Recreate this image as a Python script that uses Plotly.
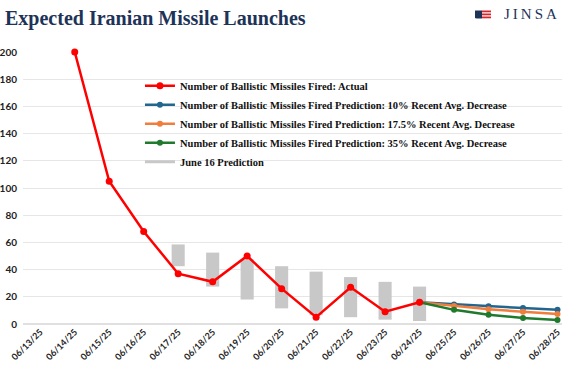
import plotly.graph_objects as go

dates = ["06/13/25", "06/14/25", "06/15/25", "06/16/25", "06/17/25", "06/18/25",
         "06/19/25", "06/20/25", "06/21/25", "06/22/25", "06/23/25", "06/24/25",
         "06/25/25", "06/26/25", "06/27/25", "06/28/25"]

actual_dates = dates[1:12]
actual = [200, 105, 68, 37, 31, 50, 26, 5, 27, 9, 16]

pred_dates = dates[11:16]
pred_10 = [16, 14.4, 13.0, 11.7, 10.5]
pred_175 = [16, 13.2, 10.9, 9.0, 7.4]
pred_35 = [16, 10.4, 6.8, 4.4, 2.9]

june16_dates = dates[4:12]
june16_low = [42.5, 27.5, 18, 11.5, 6.5, 5, 3.2, 2.2]
june16_high = [58.5, 52.5, 47.5, 42.5, 38.5, 34.5, 31, 27.5]

y_ticks = [0, 20, 40, 60, 80, 100, 120, 140, 160, 180, 200]

RED = "#ff0000"
BLUE = "#22668f"
ORANGE = "#ef7d3c"
GREEN = "#1f7a2e"
GRAY = "#c8c8c8"
NAVY = "#1d3358"

fig = go.Figure()

fig.add_trace(go.Bar(
    x=june16_dates, y=[h - l for h, l in zip(june16_high, june16_low)], base=june16_low,
    marker=dict(color=GRAY, line=dict(width=0)), width=0.38, showlegend=False,
    name="June 16 Prediction"))

fig.add_trace(go.Scatter(x=pred_dates, y=pred_10, mode="lines+markers",
                         line=dict(color=BLUE, width=2.5), marker=dict(size=6, color=BLUE),
                         name="Number of Ballistic Missiles Fired Prediction: 10% Recent Avg. Decrease",
                         legendrank=2))
fig.add_trace(go.Scatter(x=pred_dates, y=pred_175, mode="lines+markers",
                         line=dict(color=ORANGE, width=2.5), marker=dict(size=6, color=ORANGE),
                         name="Number of Ballistic Missiles Fired Prediction: 17.5% Recent Avg. Decrease",
                         legendrank=3))
fig.add_trace(go.Scatter(x=pred_dates, y=pred_35, mode="lines+markers",
                         line=dict(color=GREEN, width=2.5), marker=dict(size=6, color=GREEN),
                         name="Number of Ballistic Missiles Fired Prediction: 35% Recent Avg. Decrease",
                         legendrank=4))
fig.add_trace(go.Scatter(x=actual_dates, y=actual, mode="lines+markers",
                         line=dict(color=RED, width=2.5), marker=dict(size=7, color=RED),
                         name="Number of Ballistic Missiles Fired: Actual", cliponaxis=False,
                         legendrank=1))
# legend proxy for the gray bars
fig.add_trace(go.Scatter(x=[None], y=[None], mode="lines", line=dict(color=GRAY, width=3),
                         name="June 16 Prediction", legendrank=5))

fig.update_layout(
    width=562, height=380,
    margin=dict(l=23, r=0, t=52, b=56, autoexpand=False),
    plot_bgcolor="white", paper_bgcolor="white",
    showlegend=True,
    legend=dict(x=0.217, y=0.929, xanchor="left", yanchor="top",
                font=dict(family="Liberation Serif", size=10.5, color="#111", weight="bold"),
                bgcolor="rgba(0,0,0,0)", tracegroupgap=0, itemwidth=30,
                traceorder="normal"),
    title=dict(text="<b>Expected Iranian Missile Launches</b>", x=5 / 562.0, xref="container",
               xanchor="left", y=(380 - 18) / 380.0, yref="container", yanchor="middle",
               font=dict(family="Liberation Serif", size=20, color=NAVY)),
    xaxis=dict(type="category", categoryorder="array", categoryarray=dates,
               range=[-0.5, 15.13], tickangle=-45, showgrid=False, showline=False,
               automargin=False,
               tickfont=dict(family="Lato", size=9, color="#222", weight="bold"),
               ticks=""),
    yaxis=dict(range=[0, 200], tickvals=y_ticks, showgrid=True, gridcolor="#e6e6e6",
               gridwidth=1, zeroline=True, zerolinecolor="#e0e0e0", showline=False,
               automargin=False,
               tickfont=dict(family="Lato", size=10, color="#222", weight="bold"),
               ticks="", ticklabelstandoff=5),
)

# JINSA logo
def px_x(p):
    return (p - 23) / 539.0

def px_y(p):
    return (324 - p) / 272.0

fig.add_shape(type="rect", xref="paper", yref="paper", x0=px_x(475), x1=px_x(482),
              y0=px_y(18.5), y1=px_y(10.5), fillcolor=NAVY, line=dict(width=0))
fig.add_shape(type="rect", xref="paper", yref="paper", x0=px_x(482), x1=px_x(491),
              y0=px_y(18.5), y1=px_y(10.5), fillcolor="white", line=dict(width=0))
for top in [10.5, 13.5, 16.5]:
    fig.add_shape(type="rect", xref="paper", yref="paper", x0=px_x(482), x1=px_x(491),
                  y0=px_y(top + 1.8), y1=px_y(top), fillcolor="#d9262c", line=dict(width=0))
fig.add_annotation(xref="paper", yref="paper", x=px_x(478.5), y=px_y(14.5), text="✡",
                   showarrow=False, font=dict(family="DejaVu Sans", size=7, color="white"))
fig.add_annotation(xref="paper", yref="paper", x=px_x(559), y=px_y(14.5), xanchor="right",
                   yanchor="middle",
                   text="J\u2009I\u2009N\u2009S\u2009A", showarrow=False,
                   font=dict(family="Liberation Serif", size=15, color=NAVY))

fig.write_html("out.html", config={"displayModeBar": False},
               post_script="document.body.style.margin='0';")
